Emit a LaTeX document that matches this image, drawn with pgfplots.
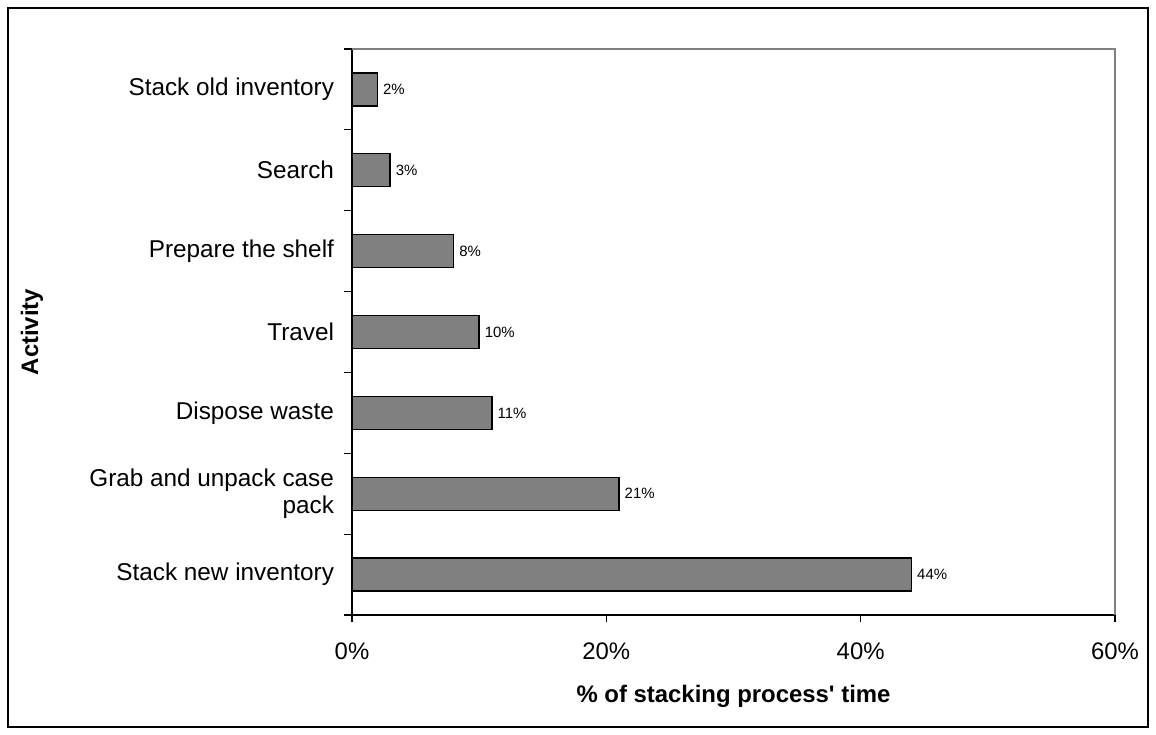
\documentclass[border=0pt]{standalone}
\usepackage{fontspec}
\setmainfont{Liberation Sans}
\usepackage{pgfplots}
\pgfplotsset{compat=1.18}
\definecolor{bargray}{HTML}{808080}
\begin{document}
\begin{tikzpicture}
\path (-176bp,-60bp) rectangle (402bp,307.5bp);
\draw[line width=1.2bp] (-172bp,-56bp) rectangle (398bp,303.5bp);
\begin{axis}[
  at={(0,0)}, anchor=south west,
  scale only axis, width=381.5bp, height=283bp,
  xbar, bar width=16.5bp, bar shift=0pt,
  xmin=0, xmax=60, ymin=-0.5, ymax=6.5,
  axis lines=left, axis line style={-, line width=0.6bp, black},
  tick align=outside,
  tick style={line width=0.6bp, black},
  xtick={0,20,40,60},
  xticklabels={0\%,20\%,40\%,60\%},
  major tick length=3.5bp, minor tick length=4bp,
  ytick={0,1,2,3,4,5,6},
  yticklabels={Stack new inventory,{Grab and unpack case\\pack},Dispose waste,Travel,Prepare the shelf,Search,Stack old inventory},
  minor ytick={-0.5,0.5,1.5,2.5,3.5,4.5,5.5,6.5},
  major y tick style={draw=none},
  yticklabel style={align=right, font=\fontsize{12.2}{13.5}\selectfont, xshift=-2bp},
  xticklabel style={font=\fontsize{12}{13.5}\selectfont, yshift=-7bp},
  xlabel={\textbf{\% of stacking process\textquotesingle\ time}},
  xlabel style={at={(axis description cs:0.5,0)}, anchor=north, yshift=-31.5bp, font=\fontsize{12}{13.5}\selectfont},
  ylabel={\textbf{Activity}},
  ylabel style={at={(axis description cs:-0.4194,0.5)}, anchor=center, font=\fontsize{12}{13.5}\selectfont},
  point meta=x,
  nodes near coords={\pgfmathprintnumber[assume math mode=true]{\pgfplotspointmeta}\%},
  every node near coord/.append style={font=\fontsize{7.5}{9}\selectfont, inner sep=2.5bp, black},
  clip=false,
]
\addplot[fill=bargray, draw=black, line width=0.7bp] coordinates {
  (44,0) (21,1) (11,2) (10,3) (8,4) (3,5) (2,6)
};
\draw[bargray, line width=0.6bp] (rel axis cs:0,1) -- (rel axis cs:1,1) -- (rel axis cs:1,0);
\end{axis}
\end{tikzpicture}
\end{document}
